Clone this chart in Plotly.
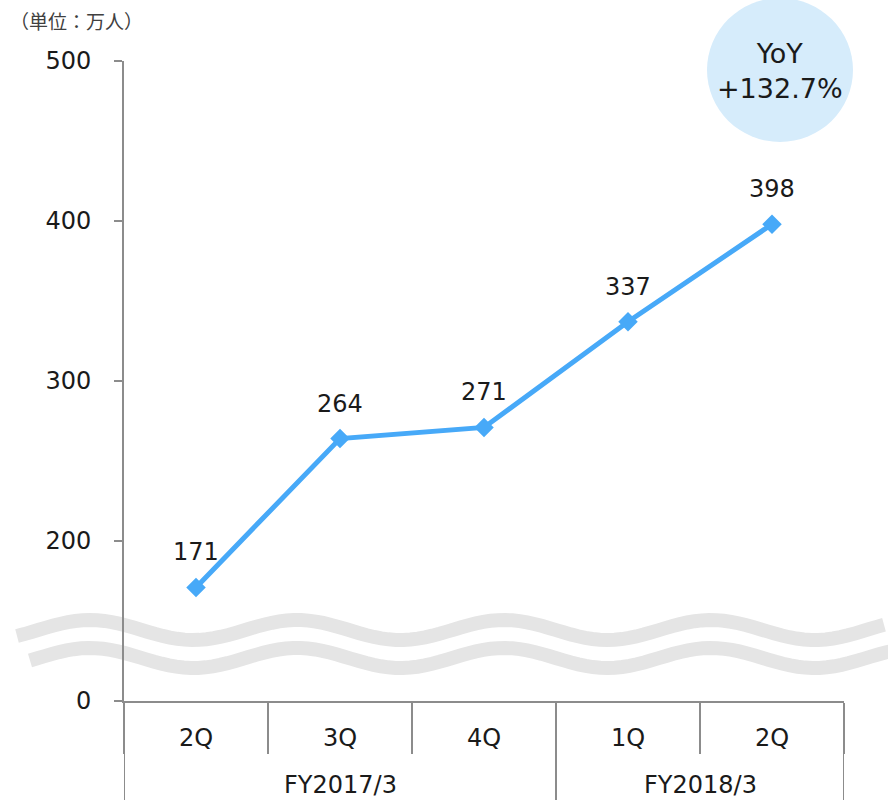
import numpy as np
import plotly.graph_objects as go

# ---- data ----
fiscal_years = ["FY2017/3", "FY2017/3", "FY2017/3", "FY2018/3", "FY2018/3"]
quarters = ["2Q", "3Q", "4Q", "1Q", "2Q"]
users = [171, 264, 271, 337, 398]          # 万人
y_tickvals = [100, 200, 300, 400, 500]     # broken axis: bottom shown as 0
y_ticklabels = ["0", "200", "300", "400", "500"]
unit_label = "（単位：万人）"
yoy_text = "YoY<br>+132.7%"

W, H = 888, 800
ML, MR, MT, MB = 124, 44, 61, 99
PW, PH = W - ML - MR, H - MT - MB

def px2paper(x, y):
    return (x - ML) / PW, (H - MB - y) / PH

FONT = "DejaVu Sans"
LINE_C = "#47a9f8"
AXIS_C = "#8c8c8c"
TXT_C = "#1a1a1a"

x_idx = list(range(len(quarters)))
boundaries = [i - 0.5 for i in range(len(quarters) + 1)]

fig = go.Figure()
fig.add_trace(go.Scatter(
    x=x_idx, y=users,
    mode="lines+markers",
    line=dict(color=LINE_C, width=5),
    marker=dict(symbol="diamond", size=15, color=LINE_C),
    text=[f"{fy} {q}" for fy, q in zip(fiscal_years, quarters)],
    hovertemplate="%{text}: %{y}<extra></extra>", showlegend=False,
))

# data labels
for i, v in enumerate(users):
    fig.add_annotation(x=i, y=v, text=str(v), showarrow=False, yshift=35,
                       font=dict(family=FONT, size=24, color=TXT_C))

# fiscal-year group labels and dividers
groups = []
for i, fy in enumerate(fiscal_years):
    if not groups or groups[-1][0] != fy:
        groups.append([fy, i, i])
    else:
        groups[-1][2] = i
_, y_grp = px2paper(0, 785)
_, y_bot = px2paper(0, 800)
for fy, a, b in groups:
    fig.add_annotation(x=(a + b) / 2, xref="x", y=y_grp, yref="paper",
                       text=fy, showarrow=False, yanchor="middle",
                       font=dict(family=FONT, size=24, color=TXT_C))
    for xb in (a - 0.5, b + 0.5):
        fig.add_shape(type="line", xref="x", yref="paper",
                      x0=xb, x1=xb, y0=0, y1=y_bot,
                      line=dict(color=AXIS_C, width=2), layer="above")

# wave (axis break) decoration
def wave_path(x0, x1, yc):
    xs = np.linspace(x0, x1, 120)
    ys = yc - 10 * np.cos(2 * np.pi * (xs - 90) / 207.0)
    pts = [px2paper(a, b) for a, b in zip(xs, ys)]
    return "M " + " L ".join(f"{a:.5f},{b:.5f}" for a, b in pts)

for (x0, x1, yc) in [(17, 884, 630), (30, 900, 658)]:
    fig.add_shape(type="path", xref="paper", yref="paper",
                  path=wave_path(x0, x1, yc),
                  line=dict(color="#e5e5e5", width=14), layer="below")

# YoY circle
cx0, cy0 = px2paper(780 - 73, 70 + 72)
cx1, cy1 = px2paper(780 + 73, 70 - 72)
fig.add_shape(type="circle", xref="paper", yref="paper",
              x0=cx0, y0=cy0, x1=cx1, y1=cy1,
              fillcolor="#d6ecfb", line=dict(width=0), layer="above")
ax_, ay_ = px2paper(780, 71)
fig.add_annotation(xref="paper", yref="paper", x=ax_, y=ay_, text=yoy_text,
                   showarrow=False, xanchor="center", yanchor="middle",
                   font=dict(family=FONT, size=27, color=TXT_C))

# unit label
ux, uy = px2paper(8, 20)
fig.add_annotation(xref="paper", yref="paper", x=ux, y=uy, text=unit_label,
                   showarrow=False, xanchor="left", yanchor="middle",
                   font=dict(family="Noto Sans CJK JP", size=19, color="#404040"))

fig.update_xaxes(
    range=[-0.5, len(quarters) - 0.5],
    tickvals=x_idx, ticktext=quarters, ticks="",
    ticklabelstandoff=14,
    minor=dict(tickvals=boundaries, ticks="outside", ticklen=51,
               tickcolor=AXIS_C, tickwidth=2, showgrid=False),
    showline=True, linecolor=AXIS_C, linewidth=2,
    showgrid=False, zeroline=False,
    tickfont=dict(family=FONT, size=24, color=TXT_C),
)
fig.update_yaxes(
    range=[100, 500],
    tickvals=y_tickvals, ticktext=y_ticklabels,
    showline=True, linecolor=AXIS_C, linewidth=2,
    ticks="outside", ticklen=8, tickcolor=AXIS_C, tickwidth=2,
    ticklabelstandoff=18,
    showgrid=False, zeroline=False,
    tickfont=dict(family=FONT, size=24, color=TXT_C),
)
fig.update_layout(
    width=W, height=H,
    margin=dict(l=ML, r=MR, t=MT, b=MB),
    paper_bgcolor="white", plot_bgcolor="white",
    font=dict(family=FONT, color=TXT_C),
)
fig.write_html("out.html", config={"displayModeBar": False},
               post_script="document.body.style.margin='0';document.body.style.overflow='hidden';")
